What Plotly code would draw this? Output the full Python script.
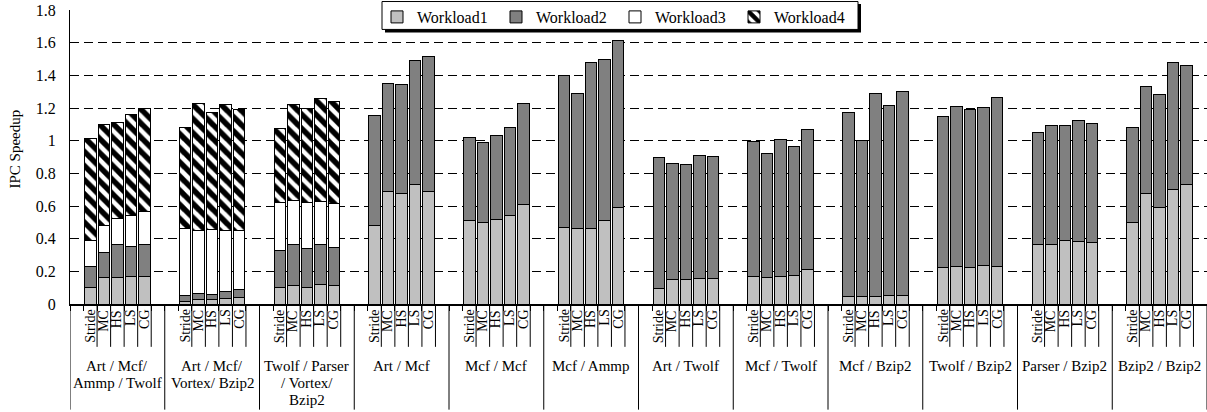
import plotly.graph_objects as go

groups = [
    ["Art / Mcf/", "Ammp / Twolf"],
    ["Art / Mcf/", "Vortex/ Bzip2"],
    ["Twolf / Parser", "/ Vortex/", "Bzip2"],
    ["Art / Mcf"],
    ["Mcf / Mcf"],
    ["Mcf / Ammp"],
    ["Art / Twolf"],
    ["Mcf / Twolf"],
    ["Mcf / Bzip2"],
    ["Twolf / Bzip2"],
    ["Parser / Bzip2"],
    ["Bzip2 / Bzip2"],
]
methods = ["Stride", "MC", "HS", "LS", "CG"]

workload1 = [
    [0.10, 0.16, 0.16, 0.17, 0.17],
    [0.014, 0.028, 0.026, 0.036, 0.038],
    [0.103, 0.114, 0.103, 0.122, 0.114],
    [0.479, 0.692, 0.675, 0.734, 0.692],
    [0.514, 0.502, 0.520, 0.540, 0.611],
    [0.469, 0.461, 0.461, 0.514, 0.591],
    [0.097, 0.148, 0.148, 0.156, 0.156],
    [0.166, 0.162, 0.166, 0.176, 0.213],
    [0.047, 0.047, 0.047, 0.053, 0.055],
    [0.223, 0.231, 0.223, 0.235, 0.229],
    [0.363, 0.363, 0.391, 0.383, 0.375],
    [0.501, 0.675, 0.592, 0.702, 0.730],
]
workload2 = [
    [0.13, 0.155, 0.206, 0.184, 0.194],
    [0.039, 0.039, 0.033, 0.041, 0.049],
    [0.224, 0.249, 0.236, 0.241, 0.229],
    [0.675, 0.659, 0.668, 0.759, 0.823],
    [0.505, 0.487, 0.511, 0.542, 0.619],
    [0.932, 0.826, 1.019, 0.984, 1.025],
    [0.798, 0.714, 0.704, 0.755, 0.747],
    [0.832, 0.759, 0.844, 0.790, 0.856],
    [1.127, 0.957, 1.245, 1.160, 1.247],
    [0.927, 0.978, 0.968, 0.966, 1.035],
    [0.688, 0.730, 0.702, 0.741, 0.730],
    [0.580, 0.658, 0.692, 0.777, 0.730],
]
workload3 = [
    [0.158, 0.168, 0.157, 0.185, 0.202],
    [0.412, 0.382, 0.400, 0.372, 0.362],
    [0.292, 0.268, 0.284, 0.262, 0.270],
] + [[None] * 5 for _ in range(9)]
workload4 = [
    [0.624, 0.617, 0.587, 0.619, 0.632],
    [0.615, 0.777, 0.714, 0.771, 0.743],
    [0.454, 0.590, 0.572, 0.635, 0.626],
] + [[None] * 5 for _ in range(9)]

SLOTS = 7  # empty, 5 bars, empty
xs = [g * SLOTS + 1 + b for g in range(len(groups)) for b in range(len(methods))]

def flat(a):
    return [v for row in a for v in row]

FONT = "Liberation Serif, Times New Roman, Times, serif"
line = dict(color="black", width=1)

fig = go.Figure()
fig.add_bar(x=xs, y=flat(workload1), name="Workload1", legend="legend",
            marker=dict(color="#c0c0c0", line=line))
fig.add_bar(x=xs, y=flat(workload2), name="Workload2", legend="legend2",
            marker=dict(color="#808080", line=line))
fig.add_bar(x=xs, y=flat(workload3), name="Workload3", legend="legend3",
            marker=dict(color="white", line=line))
fig.add_bar(x=xs, y=flat(workload4), name="Workload4", legend="legend4",
            marker=dict(color="white", line=line,
                        pattern=dict(shape="\\", fgcolor="black", bgcolor="white",
                                     fgopacity=1, size=10, solidity=0.55)))

W, H = 1207, 412
ML, MT, MB = 70, 9, 108
PH = H - MT - MB
nslots = len(groups) * SLOTS

def py(px):  # pixel y -> paper y
    return (H - MB - px) / PH

def pxx(px):
    return (px - ML) / (W - ML)

shapes = []
annotations = []
# group separators
for g in range(len(groups) + 1):
    shapes.append(dict(type="line", xref="x", yref="paper",
                       x0=g * SLOTS - 0.5, x1=g * SLOTS - 0.5,
                       y0=0, y1=py(410), line=dict(color="black", width=1)))
for g, lab in enumerate(groups):
    for b, m in enumerate(methods):
        xc = g * SLOTS + 1 + b
        shapes.append(dict(type="line", xref="x", yref="paper",
                           x0=xc + 0.5, x1=xc + 0.5, y0=0, y1=py(347),
                           line=dict(color="black", width=1)))
        annotations.append(dict(x=xc, y=py(308), xref="x", yref="paper",
                                text=m, textangle=-90, showarrow=False,
                                xanchor="center", yanchor="top",
                                font=dict(family=FONT, size=14, color="black")))
    for i, t in enumerate(lab):
        annotations.append(dict(x=g * SLOTS + 3, y=py(366.7 + 16.7 * i),
                                xref="x", yref="paper", text=t, showarrow=False,
                                xanchor="center", yanchor="middle",
                                font=dict(family=FONT, size=15, color="black")))

annotations.append(dict(x=pxx(15), y=py(149), xref="paper", yref="paper",
                        text="IPC Speedup", textangle=-90, showarrow=False,
                        xanchor="center", yanchor="middle",
                        font=dict(family=FONT, size=15, color="black")))

# legend frame with drop shadow
shapes.append(dict(type="rect", xref="paper", yref="paper",
                   x0=pxx(385), x1=pxx(861), y0=py(31.5), y1=py(3),
                   fillcolor="black", line=dict(width=0), layer="above"))
shapes.append(dict(type="rect", xref="paper", yref="paper",
                   x0=pxx(382), x1=pxx(858), y0=py(28.5), y1=py(0.5),
                   fillcolor="white", line=dict(color="black", width=1),
                   layer="above"))

def leg(k):
    return dict(orientation="h", x=pxx(377 + 119 * k), xanchor="left",
                y=py(-1), yanchor="top", bgcolor="rgba(0,0,0,0)",
                borderwidth=0,
                font=dict(family=FONT, size=16, color="black"))

fig.update_layout(
    width=W, height=H,
    margin=dict(l=ML, r=0, t=MT, b=MB),
    barmode="stack", bargap=0.15,
    plot_bgcolor="white", paper_bgcolor="white",
    font=dict(family=FONT, size=16, color="black"),
    showlegend=True,
    legend=leg(0), legend2=leg(1), legend3=leg(2), legend4=leg(3),
    xaxis=dict(range=[-0.5, nslots - 0.5], showgrid=False, zeroline=False,
               tickmode="array", tickvals=[k - 0.5 for k in range(nslots + 1)],
               ticks="outside", ticklen=5, tickcolor="black",
               showticklabels=False, showline=True, linecolor="black",
               linewidth=1.5),
    yaxis=dict(range=[0, 1.8005], dtick=0.2, tick0=0, showgrid=True,
               gridcolor="black", gridwidth=1, griddash="9px,5px",
               zeroline=False, showline=True, linecolor="black", linewidth=1,
               ticks="", ticklabelstandoff=10,
               tickfont=dict(family=FONT, size=16, color="black")),
    shapes=shapes, annotations=annotations,
)

fig.write_html("out.html")
